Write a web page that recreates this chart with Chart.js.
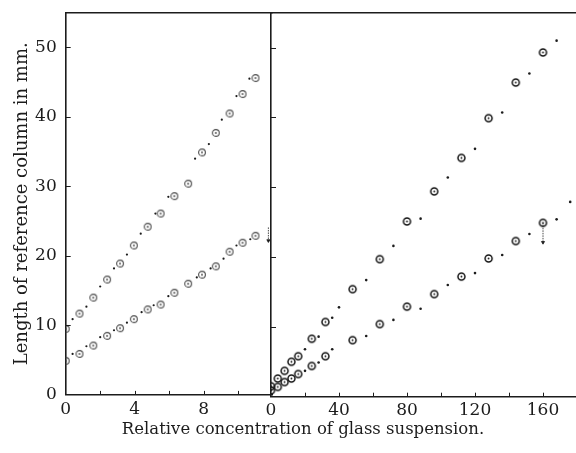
<!DOCTYPE html>
<html>
<head>
<meta charset="utf-8">
<script src="https://cdn.jsdelivr.net/npm/chart.js@4.4.0/dist/chart.umd.min.js"></script>
<style>
html,body{margin:0;padding:0;background:#fff;overflow:hidden;}
#wrap{position:relative;width:576px;height:453px;overflow:hidden;background:#fff;}
#left{position:absolute;left:0;top:0;}
#right{position:absolute;left:256px;top:0;}
</style>
</head>
<body>
<div id="wrap">
  <canvas id="left" width="606" height="453"></canvas>
  <canvas id="right" width="340" height="453"></canvas>
</div>
<script>
// left panel: low concentrations
const LEFT_X     = [0, 0.8, 1.6, 2.4, 3.15, 3.95, 4.75, 5.5, 6.3, 7.1, 7.9, 8.7, 9.5, 10.25, 11.0];
const LEFT_UPPER = [9.5, 11.7, 14.0, 16.6, 18.9, 21.5, 24.2, 26.1, 28.6, 30.4, 34.9, 37.7, 40.5, 43.3, 45.6];
const LEFT_LOWER = [4.9, 5.9, 7.1, 8.5, 9.6, 10.9, 12.3, 13.0, 14.7, 16.0, 17.3, 18.5, 20.6, 21.9, 22.9];
const LEFT_UPPER_DOT_X = [0.4, 1.2, 2.0, 2.8, 3.55, 4.35, 5.2, 5.95, 7.5, 8.3, 9.05, 9.9, 10.65];
const LEFT_UPPER_DOT_Y = [10.9, 12.7, 15.6, 18.2, 20.2, 23.2, 26.1, 28.5, 34.0, 36.1, 39.6, 43.0, 45.5];
const LEFT_LOWER_DOT_X = [0.4, 1.2, 2.0, 2.8, 3.55, 4.4, 5.1, 5.95, 7.6, 8.4, 9.15, 9.9, 10.7];
const LEFT_LOWER_DOT_Y = [5.9, 7.0, 8.3, 9.3, 10.4, 11.9, 12.9, 14.2, 16.9, 18.2, 19.6, 21.5, 22.4];
const LEFT_ARROW_X = [11.75, 11.75];
const LEFT_ARROW_Y = [24.1, 22.2];

// right panel: high concentrations
const RIGHT_X     = [0, 4, 8, 12, 16, 24, 32, 48, 64, 80, 96, 112, 128, 144, 160];
const RIGHT_UPPER = [1.5, 2.6, 3.7, 5.0, 5.8, 8.3, 10.7, 15.4, 19.7, 25.1, 29.4, 34.2, 39.9, 45.0, 49.3];
const RIGHT_LOWER = [0.9, 1.4, 2.1, 2.6, 3.25, 4.4, 5.8, 8.1, 10.4, 12.9, 14.7, 17.2, 19.8, 22.3, 24.9];
const RIGHT_UPPER_DOT_X = [20, 28, 36, 40, 56, 72, 88, 104, 120, 136, 152, 168];
const RIGHT_UPPER_DOT_Y = [6.8, 8.6, 11.3, 12.8, 16.7, 21.6, 25.5, 31.4, 35.5, 40.7, 46.3, 51.0];
const RIGHT_LOWER_DOT_X = [20, 28, 36, 56, 72, 88, 104, 120, 136, 152, 168, 176];
const RIGHT_LOWER_DOT_Y = [3.7, 4.9, 6.8, 8.7, 11.0, 12.6, 16.0, 17.7, 20.3, 23.3, 25.4, 27.9];
const RIGHT_ARROW_X = [160, 160];
const RIGHT_ARROW_Y = [24.9, 22.1];

// axes
const Y_TICKS = [0, 10, 20, 30, 40, 50];
const LEFT_TICKS = [0, 2, 4, 6, 8, 10];
const LEFT_LABELS = [0, 4, 8];
const RIGHT_TICKS = [0, 20, 40, 60, 80, 100, 120, 140, 160];
const RIGHT_LABELS = [0, 40, 80, 120, 160];
const Y_TITLE = 'Length of reference column in mm.';
const X_TITLE = 'Relative concentration of glass suspension.';

const INK = '#1c1c1c';
const FONT = 'DejaVu Serif';

const pts = (xs, ys) => xs.map((x, i) => ({x, y: ys[i]}));

// circle with a centre dot, drawn once and reused as point style
function ringMark(r, color, lw){
  const s = Math.ceil(r*2 + lw + 2);
  const c = document.createElement('canvas');
  c.width = s; c.height = s;
  const g = c.getContext('2d');
  g.strokeStyle = color; g.lineWidth = lw;
  g.beginPath(); g.arc(s/2, s/2, r, 0, Math.PI*2); g.stroke();
  g.fillStyle = color;
  g.beginPath(); g.arc(s/2, s/2, 0.9, 0, Math.PI*2); g.fill();
  return c;
}
const RING_LEFT = ringMark(3.4, '#4a4a4a', 1.1);
const RING_RIGHT = ringMark(3.5, '#151515', 1.5);

const rings = (data, mark) => ({data, pointStyle: mark, pointRadius: 4, showLine: false});
const dots = (data, r) => ({data, pointStyle: 'circle', pointRadius: r, backgroundColor: INK, borderWidth: 0, showLine: false});
const arrow = data => ({
  data, showLine: true, borderColor: INK, borderWidth: 0.8,
  pointStyle: 'triangle', pointRotation: 180, pointRadius: [0, 1.8],
  backgroundColor: INK, borderDash: [1.5, 1]
});

// top frame line and inward tick marks
const frame = {
  id: 'frame',
  afterDraw(chart){
    const {ctx, chartArea: a, scales: {x, y}} = chart;
    ctx.save();
    ctx.strokeStyle = INK;
    ctx.lineWidth = 1.6;
    ctx.beginPath();
    ctx.moveTo(a.left, a.top); ctx.lineTo(a.right, a.top);
    ctx.stroke();
    ctx.lineWidth = 1;
    ctx.beginPath();
    x.ticks.forEach(t => {
      if (t.value <= x.min) return;
      const px = Math.round(x.getPixelForValue(t.value)) + 0.5;
      ctx.moveTo(px, a.bottom); ctx.lineTo(px, a.bottom - 4);
    });
    y.ticks.forEach(t => {
      if (t.value <= y.min) return;
      const py = Math.round(y.getPixelForValue(t.value)) + 0.5;
      ctx.moveTo(a.left, py); ctx.lineTo(a.left + 5, py);
    });
    ctx.stroke();
    ctx.restore();
  }
};

function xScale(max, ticks, labels){
  return {
    type: 'linear', min: 0, max,
    afterBuildTicks: s => { s.ticks = ticks.map(v => ({value: v})); },
    afterFit: s => { s.height = 25.3; s.paddingLeft = 0; s.paddingRight = 0; },
    ticks: {
      autoSkip: false, maxRotation: 0, padding: 4, color: INK,
      font: {family: FONT, size: 17},
      callback: v => labels.includes(v) ? String(v) : ''
    },
    grid: {display: false, drawTicks: false},
    border: {display: true, color: INK, width: 1.6}
  };
}

function yScale(withLabels){
  return {
    type: 'linear', min: 0, max: 55,
    afterBuildTicks: s => { s.ticks = Y_TICKS.map(v => ({value: v})); },
    afterFit: s => { s.width = withLabels ? 65.7 : 0; s.paddingTop = 0; s.paddingBottom = 0; },
    ticks: {display: withLabels, padding: 9, color: INK, font: {family: FONT, size: 17}},
    grid: {display: false, drawTicks: false},
    border: {display: true, color: INK, width: 1.6},
    title: {
      display: withLabels, text: Y_TITLE,
      color: INK, font: {family: FONT, size: 18}, padding: {top: 12, bottom: 0}
    }
  };
}

const common = {
  responsive: false,
  animation: false,
  events: [],
  plugins: {legend: {display: false}, tooltip: {enabled: false}}
};

new Chart(document.getElementById('left'), {
  type: 'scatter',
  data: {
    datasets: [
      rings(pts(LEFT_X, LEFT_UPPER), RING_LEFT),
      rings(pts(LEFT_X, LEFT_LOWER), RING_LEFT),
      dots(pts(LEFT_UPPER_DOT_X, LEFT_UPPER_DOT_Y), 1.1),
      dots(pts(LEFT_LOWER_DOT_X, LEFT_LOWER_DOT_Y), 1.1),
      arrow(pts(LEFT_ARROW_X, LEFT_ARROW_Y))
    ]
  },
  options: {
    ...common,
    layout: {padding: {top: 12.7, bottom: 13, left: 0, right: 0}},
    plugins: {
      ...common.plugins,
      title: {
        display: true, position: 'bottom', text: X_TITLE,
        color: INK, font: {family: FONT, size: 16.5, weight: 'normal'}, padding: 0
      }
    },
    scales: {
      x: xScale(12, LEFT_TICKS, LEFT_LABELS),
      y: yScale(true),
      // empty axis that keeps the room taken by the right panel
      y2: {
        position: 'right', min: 0, max: 55,
        ticks: {display: false}, grid: {display: false, drawTicks: false}, border: {display: false},
        afterFit: s => { s.width = 606 - 272.7; s.paddingTop = 0; s.paddingBottom = 0; }
      }
    }
  },
  plugins: [frame]
});

new Chart(document.getElementById('right'), {
  type: 'scatter',
  data: {
    datasets: [
      rings(pts(RIGHT_X, RIGHT_UPPER), RING_RIGHT),
      rings(pts(RIGHT_X, RIGHT_LOWER), RING_RIGHT),
      dots(pts(RIGHT_UPPER_DOT_X, RIGHT_UPPER_DOT_Y), 1.3),
      dots(pts(RIGHT_LOWER_DOT_X, RIGHT_LOWER_DOT_Y), 1.3),
      arrow(pts(RIGHT_ARROW_X, RIGHT_ARROW_Y))
    ]
  },
  options: {
    ...common,
    layout: {padding: {top: 12.7, bottom: 31, left: 15, right: 19}},
    scales: {x: xScale(180, RIGHT_TICKS, RIGHT_LABELS), y: yScale(false)}
  },
  plugins: [frame]
});
</script>
</body>
</html>
